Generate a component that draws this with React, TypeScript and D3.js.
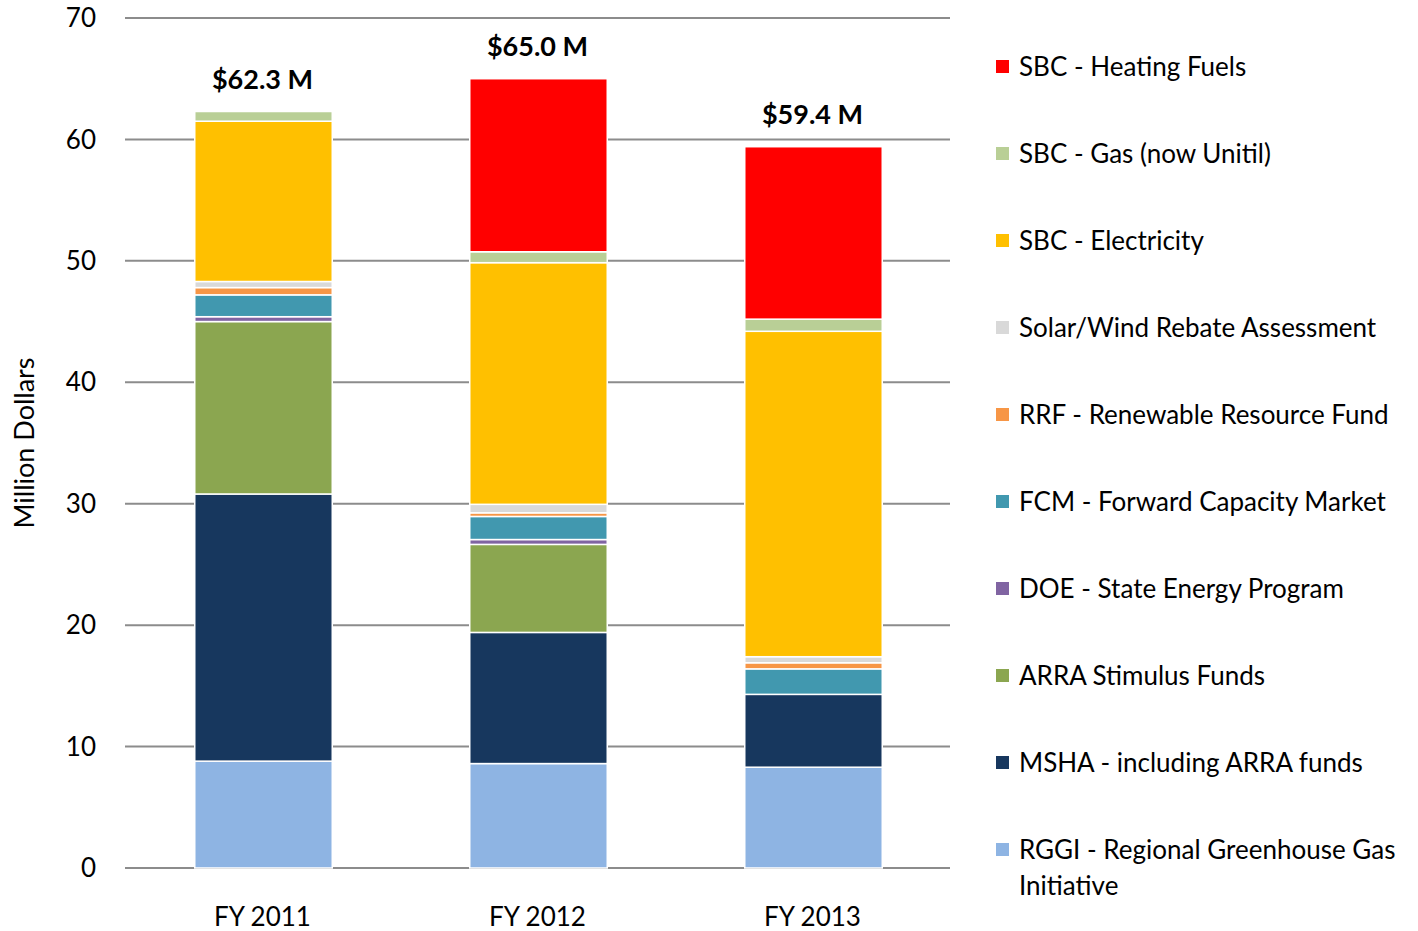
import React from "react";
import * as d3 from "d3";

const years = ["FY 2011", "FY 2012", "FY 2013"];
const seriesNames = [
  "RGGI - Regional Greenhouse Gas Initiative",
  "MSHA - including ARRA funds",
  "ARRA Stimulus Funds",
  "DOE - State Energy Program",
  "FCM - Forward Capacity Market",
  "RRF - Renewable Resource Fund",
  "Solar/Wind Rebate Assessment",
  "SBC - Electricity",
  "SBC - Gas (now Unitil)",
  "SBC - Heating Fuels",
];
const seriesColors = [
  "#8EB4E3", "#17375E", "#8BA650", "#8064A2", "#4198AF",
  "#F79646", "#D9D9D9", "#FFC000", "#B9CF96", "#FF0000",
];
const rggi = [8.8, 8.6, 8.3];
const msha = [22.0, 10.8, 6.0];
const arra = [14.2, 7.25, 0];
const doe = [0.4, 0.4, 0];
const fcm = [1.8, 1.9, 2.1];
const rrf = [0.6, 0.3, 0.5];
const solar = [0.5, 0.7, 0.5];
const sbcElec = [13.2, 19.9, 26.8];
const sbcGas = [0.8, 0.9, 1.0];
const sbcHeat = [0, 14.25, 14.2];
const totalLabels = ["$62.3 M", "$65.0 M", "$59.4 M"];
const yTicks = [0, 10, 20, 30, 40, 50, 60, 70];

const values = [rggi, msha, arra, doe, fcm, rrf, solar, sbcElec, sbcGas, sbcHeat];

const W = 1418, H = 931;
const M = { left: 125, right: 950, top: 18, bottom: 868 };
const FONT = "Lato, 'Open Sans', sans-serif";

export default function App() {
  const x = d3.scaleBand().domain(years).range([M.left, M.right]).paddingInner(0.5).paddingOuter(0.25);
  const y = d3.scaleLinear().domain([0, 70]).range([M.bottom, M.top]);
  const table = years.map((yr, i) => {
    const row: any = { year: yr };
    seriesNames.forEach((s, k) => (row[s] = values[k][i]));
    return row;
  });
  const stacked = d3.stack<any>().keys(seriesNames)(table);
  const totals = years.map((_, i) => d3.sum(values, (v) => v[i]));

  const legendOrder = seriesNames.map((n, i) => ({ n, c: seriesColors[i] })).reverse();

  return (
    <svg width={W} height={H} style={{ position: "absolute", left: 0, top: 0, background: "#fff" }} fontFamily={FONT}>
      {yTicks.map((t) => (
        <g key={t}>
          <line x1={M.left} x2={M.right} y1={y(t)} y2={y(t)} stroke="#8C8C8C" strokeWidth={2} />
          <text x={96} y={y(t)} dy="0.35em" textAnchor="end" fontSize={26} fill="#000">{t}</text>
        </g>
      ))}
      {stacked.map((layer, k) =>
        layer.map((d, i) => {
          const h = y(d[0]) - y(d[1]);
          if (h <= 0) return null;
          return (
            <rect key={k + "-" + i} x={x(years[i])! + 1} width={x.bandwidth()} y={y(d[1])} height={h}
              fill={seriesColors[k]} stroke="#fff" strokeWidth={1.5} />
          );
        })
      )}
      {years.map((yr, i) => (
        <text key={yr} x={x(yr)! + x.bandwidth() / 2} y={y(totals[i]) - 23} textAnchor="middle"
          fontSize={27} fontWeight="bold" fill="#000">{totalLabels[i]}</text>
      ))}
      {years.map((yr) => (
        <text key={"l" + yr} x={x(yr)! + x.bandwidth() / 2} y={926} textAnchor="middle" fontSize={26} fill="#000">{yr}</text>
      ))}
      <text transform={`translate(34,${(M.top + M.bottom) / 2}) rotate(-90)`} textAnchor="middle" fontSize={27} fill="#000">Million Dollars</text>
      {legendOrder.map((s, i) => {
        const cy = 67 + i * 87;
        const words = s.n === seriesNames[0] ? ["RGGI - Regional Greenhouse Gas", "Initiative"] : [s.n];
        return (
          <g key={s.n}>
            <rect x={996} y={cy - 7} width={13} height={13} fill={s.c} />
            {words.map((w, j) => (
              <text key={j} x={1019} y={cy + j * 36} dy="0.35em" fontSize={26} fill="#000">{w}</text>
            ))}
          </g>
        );
      })}
    </svg>
  );
}
